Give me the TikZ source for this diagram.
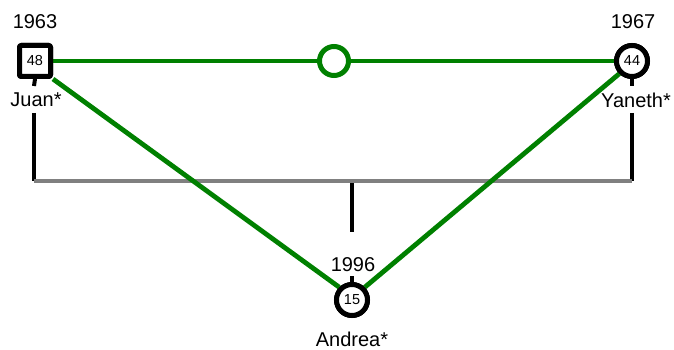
\documentclass[tikz,border=0pt]{standalone}
\usepackage{fontspec}
\setmainfont{Liberation Sans}
\definecolor{rel}{RGB}{0,128,0}
\definecolor{sib}{RGB}{128,128,128}
\begin{document}
\begin{tikzpicture}[x=1pt,y=-1pt,
  person/.style={draw=black,line width=5pt,fill=white,minimum size=31pt,inner sep=0pt,font=\fontsize{14.5}{14.5}\selectfont},
  male/.style={person,rectangle,rounded corners=2pt},
  female/.style={person,circle},
  lbl/.style={font=\fontsize{20}{20}\selectfont,inner sep=0pt},
  green/.style={draw=rel,line width=4.8pt},
  blk/.style={draw=black,line width=4.8pt},
  gry/.style={draw=sib,line width=4.8pt}]
\useasboundingbox (0,0) rectangle (674,350);
% coordinates
\coordinate (jt) at (34,113);
\coordinate (jb) at (34,181);
\coordinate (yt) at (632,113);
\coordinate (yb) at (632,181);
\coordinate (am) at (352,181);
\coordinate (ab) at (352,232);
\coordinate (js) at (34,86);
\coordinate (ys) at (632,86);
\coordinate (as) at (352,276);
% sibship / descent lines
\draw[blk] (jt) -- (jb);
\draw[blk] (yt) -- (yb);
\draw[blk] (am) -- (ab);
\draw[gry] (jb) -- (yb);
% relationship lines
\node[circle,draw=rel,line width=5pt,fill=white,minimum size=29pt,inner sep=0pt] (rel) at (334,61) {};
\node[male] (juan) at (35,61) {};
\node[female] (yan) at (632,61) {};
\node[female] (and) at (352,300) {};
\draw[green] (juan.east) -- (rel.west);
\draw[green] (rel.east) -- (yan.west);
\draw[green] (juan.south east) -- (and.north west);
\draw[green] (yan.south west) -- (and.north east);
% stubs
\draw[draw=black,line width=4pt] (juan.south) -- (js);
\draw[draw=black,line width=4pt] (yan.south) -- (ys);
\draw[draw=black,line width=4pt] (and.north) -- (as);
% redraw persons on top
\node[male] at (35,61) {48};
\node[female] at (632,61) {44};
\node[female] at (352,300) {15};
% labels
\node[lbl] (jy) at (35,22) {1963};
\node[lbl] (jn) at (36,100) {Juan*};
\node[lbl] (yy) at (633,22) {1967};
\node[lbl] (yn) at (636,100) {Yaneth*};
\node[lbl] (ay) at (353,265) {1996};
\node[lbl] (an) at (352,339) {Andrea*};
\end{tikzpicture}
\end{document}
